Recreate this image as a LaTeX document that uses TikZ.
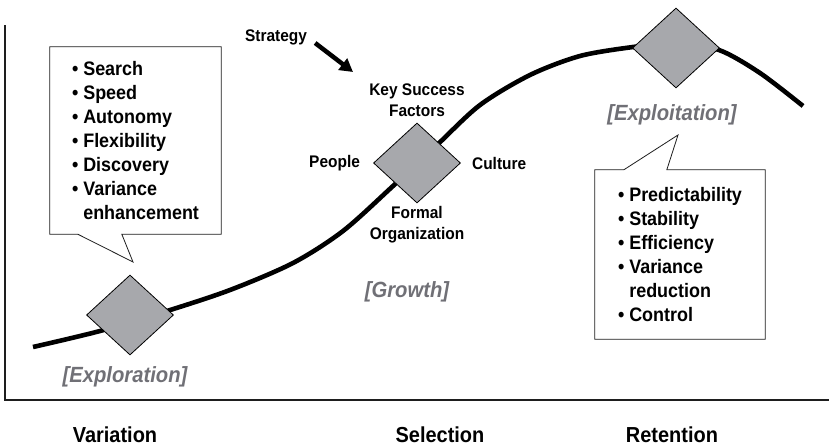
\documentclass[tikz,border=0pt]{standalone}
\usepackage{fontspec}
\setmainfont{Liberation Sans}[FakeStretch=0.92]
\usepackage{tikz}
\usetikzlibrary{shapes.geometric, arrows.meta, positioning, calc, backgrounds}
\definecolor{gemgray}{RGB}{167,168,172}
\definecolor{phasegray}{RGB}{112,112,118}
\definecolor{inkdark}{RGB}{30,30,30}

\newcommand{\bul}[1]{\textbullet~#1}
\newcommand{\cont}[1]{\phantom{\textbullet~}#1}

\begin{document}
\begin{tikzpicture}[
  x=1pt, y=-1pt,
  gem/.style={diamond, draw=black, line width=0.8pt, fill=gemgray, minimum width=87pt, minimum height=80pt, inner sep=0pt},
  lever/.style={font=\fontsize{16.8}{21}\selectfont\bfseries, align=center, inner sep=0pt},
  phase/.style={font=\fontsize{22}{26}\selectfont\bfseries\itshape, text=phasegray, inner sep=0pt},
  stage/.style={font=\fontsize{21.7}{26}\selectfont\bfseries, inner sep=0pt},
  listbox/.style={align=left, inner sep=0pt, font=\fontsize{19.5}{24}\selectfont\bfseries},
  callout/.style={draw=inkdark, line width=0.8pt, fill=white, line join=miter},
  curve/.style={line width=4.6pt, draw=black},
  axisline/.style={line width=2.6pt, draw=inkdark},
  bigarrow/.style={-{Triangle[length=13pt, width=14pt]}, line width=4.5pt}
]
\useasboundingbox (0,0) rectangle (829,447);

% Axes
\coordinate (ytop) at (5,25);
\coordinate (origin) at (5,400);
\coordinate (xend) at (829,400);
\draw[axisline] (ytop) -- (origin) -- (xend);

% S-curve, drawn first so the diamonds sit on top of it
\draw[curve] plot[smooth, tension=0.5] coordinates {
  (33,347) (100,331) (167,311) (230,290) (293,263) (343,231) (393,186)
  (437,145) (480,105) (530,75) (580,56) (633,47) (676,43) (719,50)
  (760,73) (803,106)};

% Diamonds on the curve
\node[gem] (explore) at (130,315) {};
\node[gem] (grow) at (417,163) {};
\node[gem] (exploit) at (676,48) {};

% Labels round the middle diamond
\node[lever, above=6pt of grow] (ksf) {Key Success\\Factors};
\node[lever, left=13pt of grow] (people) {People};
\node[lever, right=11pt of grow] (culture) {Culture};
\node[lever, below=3pt of grow] (formal) {Formal\\Organization};

% Strategy arrow
\node[lever] (strategy) at (276,37) {Strategy};
\coordinate (aim) at (353,72);
\draw[bigarrow] ([shift={(8,6)}]strategy.east) -- (aim);

% Phase names
\node[phase] (exploration) at (125,377) {[Exploration]};
\node[phase] (growth) at (407,292) {[Growth]};
\node[phase] (exploitation) at (672,115) {[Exploitation]};

% Left callout
\node[listbox, minimum width=171pt, minimum height=187pt] (gains) at (135.5,140.5) {
  \bul{Search}\\
  \bul{Speed}\\
  \bul{Autonomy}\\
  \bul{Flexibility}\\
  \bul{Discovery}\\
  \bul{Variance}\\
  \cont{enhancement}
};
\coordinate (gainstip) at (133,262);

% Right callout
\node[listbox, minimum width=170pt, minimum height=169pt] (holds) at (680,254.5) {
  \bul{Predictability}\\
  \bul{Stability}\\
  \bul{Efficiency}\\
  \bul{Variance}\\
  \cont{reduction}\\
  \bul{Control}
};
\coordinate (holdstip) at (678,135);

% Callout outlines behind the lists
\begin{scope}[on background layer]
  \draw[callout] (gains.north west) -- (gains.north east) -- (gains.south east)
    -- ($(gains.south west)+(72,0)$) -- (gainstip) -- ($(gains.south west)+(28,0)$)
    -- (gains.south west) -- cycle;
  \draw[callout] (holds.south west) -- (holds.south east) -- (holds.north east)
    -- ($(holds.north west)+(72,0)$) -- (holdstip) -- ($(holds.north west)+(29,0)$)
    -- (holds.north west) -- cycle;
\end{scope}

% Stages along the bottom
\node[stage] (variation) at (115,435) {Variation};
\node[stage] (selection) at (440,435) {Selection};
\node[stage] (retention) at (672,435) {Retention};

\end{tikzpicture}
\end{document}
